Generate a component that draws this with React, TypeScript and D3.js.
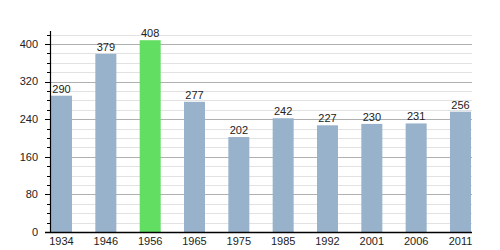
import React from "react";
import * as d3 from "d3";

const years = ["1934", "1946", "1956", "1965", "1975", "1985", "1992", "2001", "2006", "2011"];
const population = [290, 379, 408, 277, 202, 242, 227, 230, 231, 256];
const highlightYear = "1956";
const majorTicks = [0, 80, 160, 240, 320, 400];
const minorTicks = [20, 40, 60, 100, 120, 140, 180, 200, 220, 260, 280, 300, 340, 360, 380, 420];

export default function App() {
  const W = 500, H = 250;
  const x0 = 50.5, x1 = 472;
  const y = d3.scaleLinear().domain([0, 427]).range([232, 31.3]);
  const x = d3.scaleBand<string>().domain(years).range([51, 471]).paddingInner(0.526).paddingOuter(0);
  const font = "'Liberation Sans', Arial, sans-serif";
  return (
    <svg width={W} height={H} style={{ position: "absolute", left: 0, top: 0 }} fontFamily={font}>
      <rect width={W} height={H} fill="#fff" />
      {minorTicks.map((t) => (
        <line key={"mg" + t} x1={x0} x2={x1} y1={Math.round(y(t)) + 0.5} y2={Math.round(y(t)) + 0.5} stroke="#e2e2e2" strokeWidth={1} />
      ))}
      {majorTicks.filter((t) => t > 0).map((t) => (
        <line key={"Mg" + t} x1={x0} x2={x1} y1={Math.round(y(t)) + 0.5} y2={Math.round(y(t)) + 0.5} stroke="#b0b0b0" strokeWidth={1} />
      ))}
      {years.map((yr, i) => (
        <rect key={"b" + yr} x={x(yr)} y={y(population[i])} width={x.bandwidth()} height={y(0) - y(population[i])}
          fill={yr === highlightYear ? "#62de62" : "#98b2cb"} />
      ))}
      {years.map((yr, i) => (
        <text key={"l" + yr} x={(x(yr) as number) + x.bandwidth() / 2} y={y(population[i]) - 3} textAnchor="middle" fontSize={11} fill="#222">
          {population[i]}
        </text>
      ))}
      {/* y axis */}
      <line x1={x0} x2={x0} y1={31} y2={232.5} stroke="#000" strokeWidth={1.2} />
      {minorTicks.map((t) => (
        <line key={"mt" + t} x1={47} x2={x0} y1={Math.round(y(t)) + 0.5} y2={Math.round(y(t)) + 0.5} stroke="#000" strokeWidth={1} />
      ))}
      {majorTicks.map((t) => (
        <g key={"Mt" + t}>
          <line x1={45} x2={x0} y1={Math.round(y(t)) + 0.5} y2={Math.round(y(t)) + 0.5} stroke="#000" strokeWidth={1} />
          <text x={38} y={y(t)} dy="0.35em" textAnchor="end" fontSize={11} fill="#222">{t}</text>
        </g>
      ))}
      {/* x axis */}
      <line x1={45} x2={x1} y1={232.5} y2={232.5} stroke="#000" strokeWidth={1.5} />
      {years.map((yr) => (
        <text key={"x" + yr} x={(x(yr) as number) + x.bandwidth() / 2} y={245} textAnchor="middle" fontSize={11} fill="#222">{yr}</text>
      ))}
    </svg>
  );
}
